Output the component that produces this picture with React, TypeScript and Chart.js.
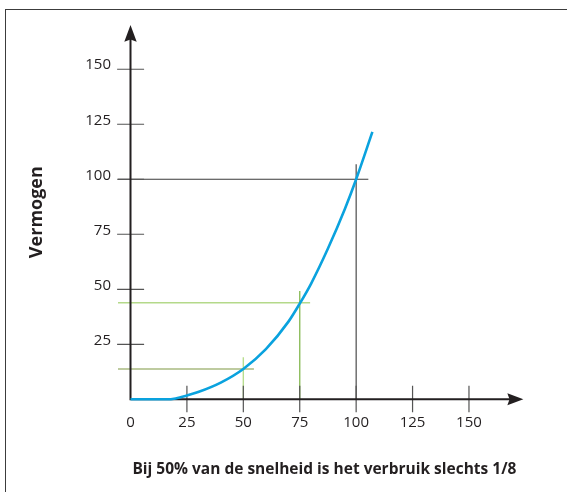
import { useEffect, useRef } from "react";
import { Chart, registerables } from "chart.js";

Chart.register(...registerables);

// ---- data ----
const xTickValues = [0, 25, 50, 75, 100, 125, 150];
const yTickValues = [25, 50, 75, 100, 125, 150];
const speed = [0, 16, 20, 25, 30, 40, 50, 60, 70, 75, 80, 87.5, 95, 100, 107.2];
const power = [0, 0, 0.4, 1.7, 3.3, 7.6, 13.8, 22.8, 35.3, 43.5, 52.5, 68.5, 86.5, 100, 121.5];
const refSpeed = [50, 75, 100];
const refPower = [13.8, 43.9, 100];
const refLineEnd = [54.7, 79.6, 105.4];
const refLineTop = [19.1, 49.2, 106.8];
const refHColors = ["#a9ba80", "#b4d98a", "#3a3a3a"];
const refVColors = ["#b8de8f", "#8dbd5d", "#3a3a3a"];
const refWidths = [1.4, 1.4, 1.1];
const xTitle = "Bij 50% van de snelheid is het verbruik slechts 1/8";
const yTitle = "Vermogen";

const X_MIN = -5.54;
const X_MAX = 177.4;
const X_ARROW = 174.1;
const Y_MIN = 0;
const Y_MAX = 170.1;

const FONT = "'Open Sans', 'DejaVu Sans', sans-serif";
const INK = "#231f20";

const axesPlugin = {
  id: "arrowAxes",
  beforeDatasetDraw(chart: any, args: any) {
    if (args.index !== 0) return;
    const ctx = chart.ctx;
    const xs = chart.scales.x;
    const ys = chart.scales.y;
    const x0 = xs.getPixelForValue(0);
    const y0 = ys.getPixelForValue(0);
    const xTip = xs.getPixelForValue(X_ARROW);
    const yTip = ys.getPixelForValue(Y_MAX);
    ctx.save();
    ctx.strokeStyle = "#555555";
    ctx.lineWidth = 1.2;
    ctx.beginPath();
    for (const v of yTickValues) {
      const py = ys.getPixelForValue(v);
      ctx.moveTo(x0 - 13.4, py);
      ctx.lineTo(x0 + 13.6, py);
    }
    for (const v of xTickValues) {
      if (v === 0) continue;
      const px = xs.getPixelForValue(v);
      ctx.moveTo(px, y0 - 13.5);
      ctx.lineTo(px, y0 + 13);
    }
    ctx.stroke();

    ctx.strokeStyle = INK;
    ctx.fillStyle = INK;
    ctx.lineWidth = 2;
    ctx.beginPath();
    ctx.moveTo(x0, y0 + 1);
    ctx.lineTo(x0, yTip + 12);
    ctx.moveTo(x0 - 1, y0);
    ctx.lineTo(xTip - 12, y0);
    ctx.stroke();
    // arrow heads
    ctx.beginPath();
    ctx.moveTo(x0, yTip);
    ctx.lineTo(x0 + 6.2, yTip + 16.7);
    ctx.lineTo(x0, yTip + 14.5);
    ctx.lineTo(x0 - 6.2, yTip + 16.7);
    ctx.closePath();
    ctx.fill();
    ctx.beginPath();
    ctx.moveTo(xTip, y0);
    ctx.lineTo(xTip - 16, y0 - 6);
    ctx.lineTo(xTip - 13.8, y0);
    ctx.lineTo(xTip - 16, y0 + 6);
    ctx.closePath();
    ctx.fill();
    ctx.restore();
  },
};

export default function App() {
  const ref = useRef<HTMLCanvasElement | null>(null);

  useEffect(() => {
    if (!ref.current) return;
    const guideSets: any[] = [];
    refSpeed.forEach((s, i) => {
      guideSets.push({
        data: [
          { x: X_MIN, y: refPower[i] },
          { x: refLineEnd[i], y: refPower[i] },
        ],
        borderColor: refHColors[i],
        borderWidth: refWidths[i],
        pointRadius: 0,
        tension: 0,
      });
      guideSets.push({
        data: [
          { x: s, y: 0 },
          { x: s, y: refLineTop[i] },
        ],
        borderColor: refVColors[i],
        borderWidth: refWidths[i],
        pointRadius: 0,
        tension: 0,
      });
    });

    const chart = new Chart(ref.current, {
      type: "line",
      data: {
        datasets: [
          {
            data: speed.map((s, i) => ({ x: s, y: power[i] })),
            borderColor: "#0aa2de",
            borderWidth: 2.6,
            pointRadius: 0,
            cubicInterpolationMode: "monotone",
            clip: 4,
          },
          ...guideSets,
        ],
      },
      options: {
        animation: false,
        responsive: false,
        events: [],
        layout: { padding: { left: 0, top: 25, right: 36.2, bottom: 0 } },
        plugins: {
          legend: { display: false },
          tooltip: { enabled: false },
          title: { display: false },
        },
        scales: {
          x: {
            type: "linear",
            min: X_MIN,
            max: X_MAX,
            border: { display: false },
            grid: { display: false, drawTicks: false },
            afterBuildTicks: (scale: any) => {
              scale.ticks = xTickValues.map((v) => ({ value: v }));
            },
            afterFit: (scale: any) => {
              scale.height = 92.7;
            },
            ticks: {
              padding: 14.5,
              color: INK,
              font: { family: FONT, size: 15 },
              maxRotation: 0,
              autoSkip: false,
            },
            title: {
              display: true,
              text: xTitle,
              color: INK,
              font: { family: FONT, size: 15.5, weight: "bold" },
              padding: { top: 0, bottom: 13 },
            },
          },
          y: {
            type: "linear",
            min: Y_MIN,
            max: Y_MAX,
            border: { display: false },
            grid: { display: false, drawTicks: false },
            afterBuildTicks: (scale: any) => {
              scale.ticks = yTickValues.map((v) => ({ value: v }));
            },
            afterFit: (scale: any) => {
              scale.width = 118;
            },
            ticks: {
              padding: 7,
              labelOffset: -4,
              color: INK,
              font: { family: FONT, size: 15 },
              autoSkip: false,
            },
            title: {
              display: true,
              text: yTitle,
              color: INK,
              font: { family: FONT, size: 18, weight: "bold" },
              padding: { top: 26.2, bottom: 0 },
            },
          },
        },
      },
      plugins: [axesPlugin],
    } as any);
    return () => chart.destroy();
  }, []);

  return (
    <div
      style={{
        position: "absolute",
        left: 0,
        top: 0,
        width: 567,
        height: 492,
        overflow: "hidden",
        background: "#ffffff",
      }}
    >
      <div
        style={{
          position: "absolute",
          left: 5,
          top: 9,
          width: 562,
          height: 483,
          borderTop: "1.5px solid #3c3c3c",
          borderLeft: "1.5px solid #3c3c3c",
          boxSizing: "border-box",
        }}
      />
      <canvas
        ref={ref}
        width={567}
        height={492}
        style={{ position: "absolute", left: 0, top: 0, display: "block" }}
      />
    </div>
  );
}
